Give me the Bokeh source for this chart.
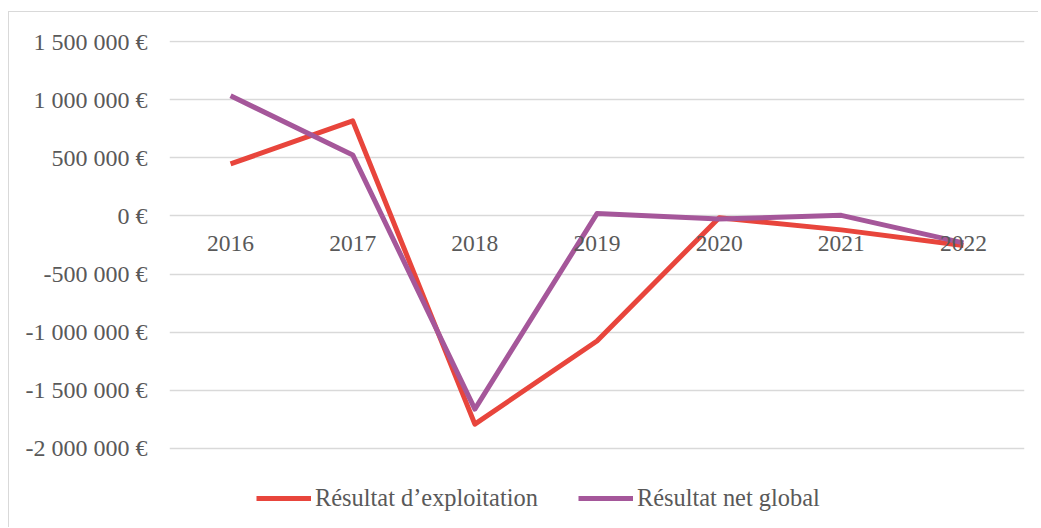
from bokeh.plotting import figure
from bokeh.models import Range1d, Legend, LegendItem, FixedTicker
from bokeh.embed import file_html
from bokeh.resources import INLINE

years = ["2016", "2017", "2018", "2019", "2020", "2021", "2022"]
resultat_exploitation = [447000, 817000, -1790000, -1076000, -15000, -120000, -255000]
resultat_net_global = [1033000, 525000, -1661000, 20000, -26000, 5000, -232000]

tick_values = [-2000000, -1500000, -1000000, -500000, 0, 500000, 1000000, 1500000]
tick_labels = ["-2 000 000 €", "-1 500 000 €", "-1 000 000 €", "-500 000 €",
               "0 €", "500 000 €", "1 000 000 €", "1 500 000 €"]

FONT = "Liberation Serif"
GREY = "#595959"
RED = "#E8453C"
PURPLE = "#A5579A"

p = figure(x_range=years, y_range=Range1d(-2688000, 1508600),
           width=1030, height=516, output_backend="svg", toolbar_location=None,
           min_border_left=160, min_border_right=15, min_border_top=28, min_border_bottom=0)
p.styles = {"border-top": "1px solid #d9d9d9", "border-left": "1px solid #d9d9d9",
            "margin-top": "11px", "margin-left": "8px"}
p.outline_line_color = None
p.background_fill_color = "white"
p.border_fill_color = "white"

r1 = p.line(years, resultat_exploitation, line_color=RED, line_width=5, line_join="round")
r2 = p.line(years, resultat_net_global, line_color=PURPLE, line_width=5, line_join="round")

p.yaxis.ticker = FixedTicker(ticks=tick_values)
p.yaxis.major_label_overrides = {v: l for v, l in zip(tick_values, tick_labels)}
p.yaxis.axis_line_color = None
p.yaxis.major_tick_line_color = None
p.yaxis.minor_tick_line_color = None
p.yaxis.major_tick_out = 0
p.yaxis.minor_tick_out = 0
p.yaxis.major_label_standoff = 22
p.yaxis.major_label_text_font = FONT
p.yaxis.major_label_text_font_size = "24px"
p.yaxis.major_label_text_color = GREY

p.xaxis.fixed_location = 0
p.xaxis.axis_line_color = None
p.xaxis.major_tick_line_color = None
p.xaxis.minor_tick_line_color = None
p.xaxis.major_tick_out = 0
p.xaxis.minor_tick_out = 0
p.xaxis.major_label_standoff = 20
p.xaxis.major_label_text_font = FONT
p.xaxis.major_label_text_font_size = "23.5px"
p.xaxis.major_label_text_color = GREY

p.xgrid.grid_line_color = None
p.ygrid.grid_line_color = "#d9d9d9"
p.ygrid.grid_line_width = 1.5
p.ygrid.ticker = FixedTicker(ticks=tick_values)

legend = Legend(items=[LegendItem(label="Résultat d’exploitation", renderers=[r1]),
                       LegendItem(label="Résultat net global", renderers=[r2])],
                orientation="horizontal", location=(87, 16),
                label_text_font=FONT, label_text_font_size="24.4px",
                label_text_color=GREY, glyph_width=55, glyph_height=20,
                label_standoff=4, spacing=40, padding=0, margin=0,
                border_line_color=None, background_fill_alpha=0)
p.add_layout(legend)

open("out.html", "w").write(file_html(p, INLINE))
